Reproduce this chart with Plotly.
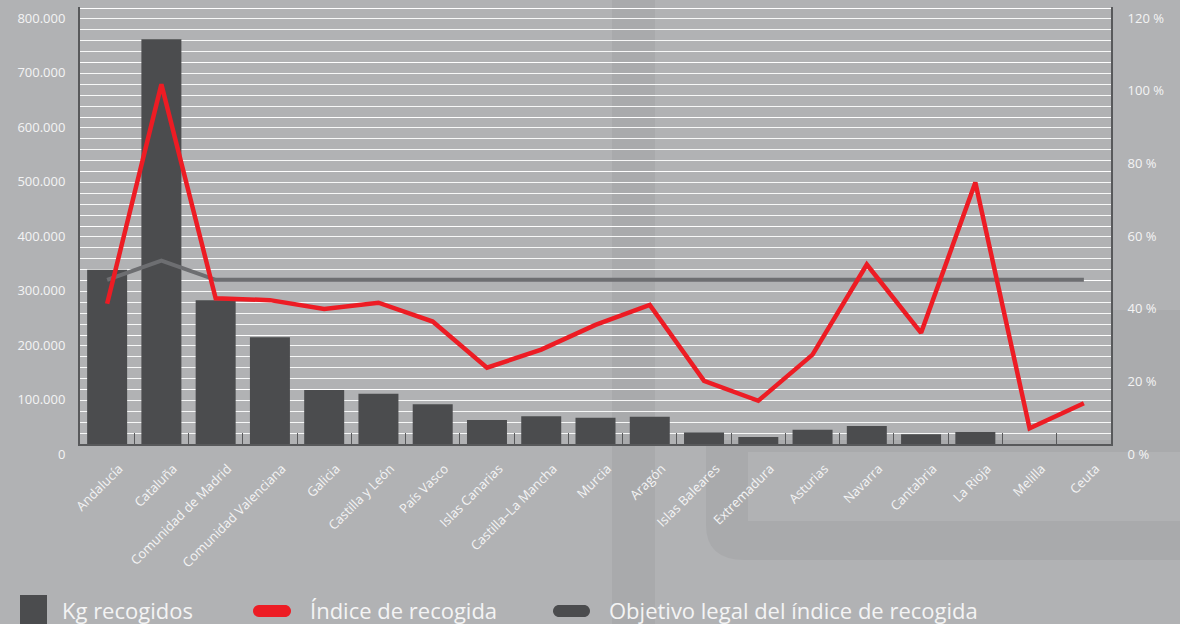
import plotly.graph_objects as go

categories = ["Andalucía", "Cataluña", "Comunidad de Madrid", "Comunidad Valenciana",
              "Galicia", "Castilla y León", "País Vasco", "Islas Canarias",
              "Castilla–La Mancha", "Murcia", "Aragón", "Islas Baleares",
              "Extremadura", "Asturias", "Navarra", "Cantabria", "La Rioja",
              "Melilla", "Ceuta"]
kg_recogidos = [320000, 743000, 264000, 196000, 99000, 92000, 73000, 44000,
                51000, 48000, 50000, 21000, 13000, 26000, 33000, 18000, 22000,
                0, 0]
indice_recogida = [38.6, 99.0, 40.1, 39.6, 37.2, 38.9, 33.7, 21.0, 26.0, 32.8,
                   38.3, 17.4, 11.9, 24.6, 49.4, 30.6, 72.0, 4.3, 11.2]
objetivo_legal = [45.2, 50.5, 45.2, 45.2, 45.2, 45.2, 45.2, 45.2, 45.2, 45.2,
                  45.2, 45.2, 45.2, 45.2, 45.2, 45.2, 45.2, 45.2, 45.2]
y_ticks = [0, 100000, 200000, 300000, 400000, 500000, 600000, 700000, 800000]
y2_ticks = [0, 20, 40, 60, 80, 100, 120]
y2_ticktext = [f"{v} %" for v in y2_ticks]
legend_labels = ["Kg recogidos", "Índice de recogida", "Objetivo legal del índice de recogida"]

BG = "#b1b2b4"
BAR = "#4b4c4e"
RED = "#ed1c24"
GREY = "#6d6e71"
AXIS = "#58595b"
TXT = "#f4f4f4"
FONT = "Open Sans"

W, H = 1180, 624
L, R, T, B = 80, 1111, 7, 444


def px(x):
    return (x - L) / (R - L)


def py(y):
    return (B - y) / (B - T)


def pill(x0, x1, yc, h):
    r = h / 2.0
    k = 0.5523 * r
    pts = [
        ("M", [(x0 + r, yc - r)]),
        ("L", [(x1 - r, yc - r)]),
        ("C", [(x1 - r + k, yc - r), (x1, yc - k), (x1, yc)]),
        ("C", [(x1, yc + k), (x1 - r + k, yc + r), (x1 - r, yc + r)]),
        ("L", [(x0 + r, yc + r)]),
        ("C", [(x0 + r - k, yc + r), (x0, yc + k), (x0, yc)]),
        ("C", [(x0, yc - k), (x0 + r - k, yc - r), (x0 + r, yc - r)]),
    ]
    s = ""
    for cmd, ps in pts:
        s += cmd + " " + " ".join(f"{px(a):.5f},{py(b):.5f}" for a, b in ps) + " "
    return s + "Z"


fig = go.Figure()
fig.add_trace(go.Bar(x=categories, y=kg_recogidos, marker=dict(color=BAR, line=dict(width=0)),
                     name=legend_labels[0], yaxis="y", showlegend=False))
fig.add_trace(go.Scatter(x=categories, y=objetivo_legal, mode="lines", name=legend_labels[2],
                         line=dict(color=GREY, width=4), yaxis="y2", showlegend=False))
fig.add_trace(go.Scatter(x=categories, y=indice_recogida, mode="lines", name=legend_labels[1],
                         line=dict(color=RED, width=4.5), yaxis="y2", showlegend=False))

shapes = []
# subtle decorative background
deco = [
    (612, 0, 655, 624, "#a9aaac"),
    (1111, 310, 1180, 440, "#aaabad"),
]
for x0, y0, x1, y1, c in deco:
    shapes.append(dict(type="rect", xref="paper", yref="paper", x0=px(x0), x1=px(x1),
                       y0=py(y1), y1=py(y0), fillcolor=c, line=dict(width=0), layer="below"))
shapes.append(dict(type="path", xref="paper", yref="paper",
                   path=("M {a},{b} L {a},{c} Q {a},{d} {e},{d} L {f},{d} L {f},{g} L {h},{g} L {h},{i} L {f},{i} L {f},{b} Z").format(
                       a=px(706), b=py(440), c=py(525), d=py(560), e=px(745), f=px(1180),
                       g=py(521), h=px(748), i=py(452)),
                   fillcolor="#a9aaac", line=dict(width=0), layer="below"))

# legend swatches
shapes.append(dict(type="rect", xref="paper", yref="paper", x0=px(20), x1=px(47),
                   y0=py(628), y1=py(595), fillcolor=BAR, line=dict(width=0)))
shapes.append(dict(type="path", xref="paper", yref="paper", path=pill(253, 291, 611, 12),
                   fillcolor=RED, line=dict(width=0)))
shapes.append(dict(type="path", xref="paper", yref="paper", path=pill(553, 590, 611, 12),
                   fillcolor=BAR, line=dict(width=0)))

annotations = []
for lab, x in zip(legend_labels, [60, 308, 607]):
    annotations.append(dict(text=lab, xref="paper", yref="paper", x=px(x), y=py(610),
                            xanchor="left", yanchor="middle", showarrow=False,
                            font=dict(family=FONT, size=22, color=TXT)))

fig.update_layout(
    width=W, height=H,
    margin=dict(l=L, r=W - R, t=T, b=H - B, pad=0),
    paper_bgcolor=BG, plot_bgcolor=BG,
    separators=",.",
    bargap=0.263,
    showlegend=False,
    font=dict(family=FONT, size=13, color=TXT),
    xaxis=dict(type="category", showline=True, linecolor=AXIS, linewidth=2,
               ticks="inside", tickson="boundaries", ticklen=11, tickcolor=AXIS, tickwidth=1,
               tickangle=-45, tickfont=dict(size=13, color=TXT), showgrid=False,
               zeroline=False, ticklabelshift=12, ticklabelstandoff=10,
               ticklabeloverflow="allow"),
    yaxis=dict(range=[0, 802000], tickvals=y_ticks, tickformat=",d",
               showline=True, linecolor=AXIS, linewidth=2, ticks="",
               showgrid=True, gridcolor="rgba(255,255,255,0.9)", gridwidth=1.2,
               minor=dict(dtick=20000, showgrid=True, gridcolor="rgba(255,255,255,0.9)", gridwidth=1.2),
               zeroline=False, ticklabelshift=10, ticklabelstandoff=10,
               ticklabeloverflow="allow",
               tickfont=dict(size=13, color=TXT)),
    yaxis2=dict(range=[0, 120.3], tickvals=y2_ticks, ticktext=y2_ticktext, overlaying="y",
                side="right", showline=True, linecolor=AXIS, linewidth=2, ticks="",
                showgrid=False, zeroline=False, ticklabelshift=10, ticklabelstandoff=12,
                ticklabeloverflow="allow",
                tickfont=dict(size=13, color=TXT)),
    shapes=shapes,
    annotations=annotations,
)

fig.write_html("out.html", config={"displayModeBar": False},
               post_script="document.body.style.margin='0';document.body.style.overflow='hidden';")
